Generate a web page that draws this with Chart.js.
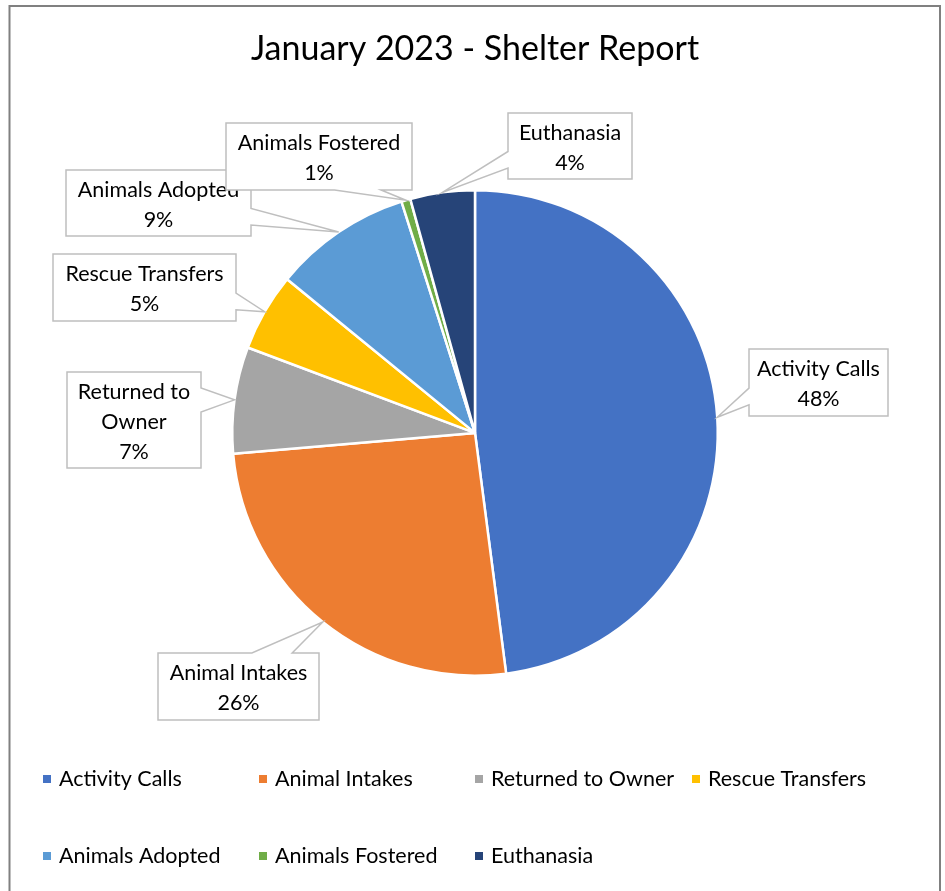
<!DOCTYPE html>
<html><head><meta charset="utf-8">
<script src="https://cdn.jsdelivr.net/npm/chart.js"></script>
<style>html,body{margin:0;padding:0;background:#fff}canvas{display:block}</style>
</head><body>
<canvas id="c" width="945" height="891"></canvas>
<script>
// ---- data ----
const chartTitle = 'January 2023 - Shelter Report';
const categories = ['Activity Calls', 'Animal Intakes', 'Returned to Owner', 'Rescue Transfers', 'Animals Adopted', 'Animals Fostered', 'Euthanasia'];
const shareValues = [48.0, 25.7, 7.1, 5.2, 9.2, 0.6, 4.3];

// ---- styles / layout ----
const sliceColors = ['#4472C4', '#ED7D31', '#A5A5A5', '#FFC000', '#5B9BD5', '#70AD47', '#264478'];
const FONT = 'Lato, "Liberation Sans", sans-serif';
const TEXT_COLOR = '#000000';
const LABEL_SIZE = 21.5;
// callout boxes (pixel rectangles)
const calloutBoxes = [
  {x: 749, y: 349, w: 139, h: 67},
  {x: 158, y: 653, w: 161, h: 67},
  {x: 67,  y: 372, w: 134, h: 96},
  {x: 53,  y: 254, w: 183, h: 67},
  {x: 66,  y: 170, w: 185, h: 66},
  {x: 226, y: 123, w: 186, h: 67},
  {x: 508, y: 113, w: 124, h: 66}
];
const legendCols = [43, 259, 475, 692];
const legendRows = [779, 856];

function calloutPath(b, t) {
  const cx = b.x + b.w / 2, cy = b.y + b.h / 2;
  const dx = t.x - cx, dy = t.y - cy;
  const L = b.x, R = b.x + b.w, T = b.y, B = b.y + b.h;
  const pos = [7 / 12, 10 / 12], neg = [2 / 12, 5 / 12];
  let side;
  if (Math.abs(dx) / b.w > Math.abs(dy) / b.h) side = dx < 0 ? 'left' : 'right';
  else side = dy < 0 ? 'top' : 'bottom';
  const pts = [{x: L, y: T}];
  if (side === 'top') { const f = dx > 0 ? pos : neg; pts.push({x: L + f[0] * b.w, y: T}, t, {x: L + f[1] * b.w, y: T}); }
  pts.push({x: R, y: T});
  if (side === 'right') { const f = dy > 0 ? pos : neg; pts.push({x: R, y: T + f[0] * b.h}, t, {x: R, y: T + f[1] * b.h}); }
  pts.push({x: R, y: B});
  if (side === 'bottom') { const f = dx > 0 ? pos : neg; pts.push({x: L + f[1] * b.w, y: B}, t, {x: L + f[0] * b.w, y: B}); }
  pts.push({x: L, y: B});
  if (side === 'left') { const f = dy > 0 ? pos : neg; pts.push({x: L, y: T + f[1] * b.h}, t, {x: L, y: T + f[0] * b.h}); }
  return pts;
}

function wrapText(ctx, text, maxW) {
  const words = text.split(' ');
  const lines = [];
  let cur = '';
  words.forEach(w => {
    const test = cur ? cur + ' ' + w : w;
    if (cur && ctx.measureText(test).width > maxW) { lines.push(cur); cur = w; }
    else cur = test;
  });
  if (cur) lines.push(cur);
  return lines;
}

const framePlugin = {
  id: 'frame',
  beforeDraw(chart) {
    const ctx = chart.ctx;
    ctx.save();
    ctx.fillStyle = '#fff';
    ctx.fillRect(0, 0, chart.width, chart.height);
    ctx.strokeStyle = '#808080';
    ctx.lineWidth = 2;
    ctx.strokeRect(9.5, 6, 930.5, 900);
    ctx.restore();
  }
};

const calloutPlugin = {
  id: 'callouts',
  afterDatasetsDraw(chart) {
    const ctx = chart.ctx;
    const meta = chart.getDatasetMeta(0);
    const data = chart.data.datasets[0].data;
    const total = data.reduce((a, b) => a + b, 0);
    ctx.save();
    meta.data.forEach((arc, i) => {
      const p = arc.getProps(['x', 'y', 'startAngle', 'endAngle', 'outerRadius'], true);
      const mid = (p.startAngle + p.endAngle) / 2;
      const tip = {x: p.x + p.outerRadius * Math.cos(mid), y: p.y + p.outerRadius * Math.sin(mid)};
      const b = calloutBoxes[i];
      const pts = calloutPath(b, tip);
      ctx.beginPath();
      pts.forEach((q, k) => k ? ctx.lineTo(q.x, q.y) : ctx.moveTo(q.x, q.y));
      ctx.closePath();
      ctx.fillStyle = '#fff';
      ctx.fill();
      ctx.strokeStyle = '#BFBFBF';
      ctx.lineWidth = 1.5;
      ctx.lineJoin = 'miter';
      ctx.stroke();
      ctx.font = LABEL_SIZE + 'px ' + FONT;
      ctx.fillStyle = TEXT_COLOR;
      ctx.textAlign = 'center';
      ctx.textBaseline = 'middle';
      const lines = wrapText(ctx, chart.data.labels[i], b.w - 8);
      lines.push(Math.round(data[i] / total * 100) + '%');
      const lh = 30, cy = b.y + b.h / 2 + 2;
      lines.forEach((ln, k) => ctx.fillText(ln, b.x + b.w / 2, cy + (k - (lines.length - 1) / 2) * lh));
    });
    ctx.restore();
  }
};

const legendPlugin = {
  id: 'customLegend',
  afterDraw(chart) {
    const ctx = chart.ctx;
    const items = Chart.overrides.pie.plugins.legend.labels.generateLabels(chart);
    ctx.save();
    ctx.font = LABEL_SIZE + 'px ' + FONT;
    ctx.textAlign = 'left';
    ctx.textBaseline = 'middle';
    items.forEach((it, i) => {
      const col = i % 4, row = Math.floor(i / 4);
      const x = legendCols[col], y = legendRows[row];
      ctx.fillStyle = it.fillStyle;
      ctx.fillRect(x, y - 4, 8, 8);
      ctx.fillStyle = TEXT_COLOR;
      ctx.fillText(it.text, x + 16, y);
    });
    ctx.restore();
  }
};

new Chart(document.getElementById('c'), {
  type: 'pie',
  data: {
    labels: categories,
    datasets: [{
      data: shareValues,
      backgroundColor: sliceColors,
      borderColor: '#ffffff',
      borderWidth: 2.5
    }]
  },
  options: {
    responsive: false,
    animation: false,
    layout: {padding: {left: 231, right: 226, top: 0, bottom: 214}},
    plugins: {
      legend: {display: false},
      tooltip: {enabled: false},
      title: {
        display: true,
        text: chartTitle,
        color: TEXT_COLOR,
        font: {family: FONT, size: 34, weight: 'normal', lineHeight: 1.2},
        padding: {top: 29, bottom: 119}
      }
    }
  },
  plugins: [framePlugin, calloutPlugin, legendPlugin]
});
</script>
</body></html>
